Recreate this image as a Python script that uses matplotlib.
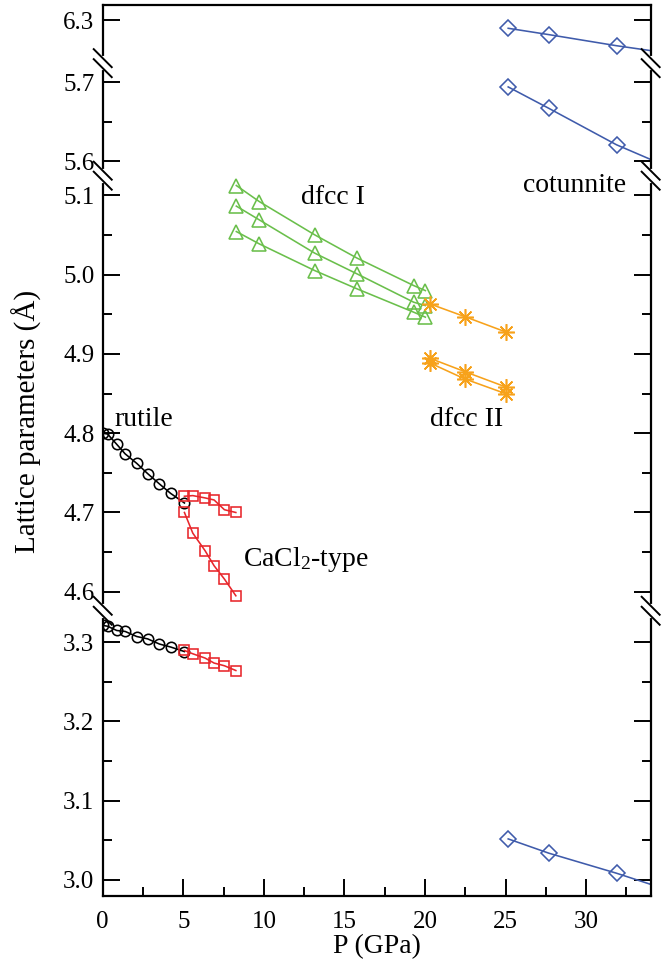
import numpy as np
import matplotlib
matplotlib.use('Agg')
import matplotlib.pyplot as plt

plt.rcParams['font.family'] = ['Liberation Serif', 'DejaVu Serif']
plt.rcParams['mathtext.fontset'] = 'custom'
plt.rcParams['mathtext.rm'] = 'Liberation Serif'
plt.rcParams['mathtext.it'] = 'Liberation Serif:italic'

# rutile (a and c)
rutile_p = [0.0, 0.3, 0.87, 1.39, 2.11, 2.79, 3.52, 4.22, 5.07]
rutile_a = [4.800, 4.799, 4.786, 4.774, 4.762, 4.749, 4.736, 4.724, 4.712]
rutile_c = [3.321, 3.320, 3.3146, 3.3134, 3.307, 3.304, 3.2975, 3.2937, 3.288]

# CaCl2-type (a, b, c)
cacl2_p = [5.07, 5.59, 6.35, 6.91, 7.55, 8.26]
cacl2_a = [4.7205, 4.7213, 4.7184, 4.7158, 4.7035, 4.700]
cacl2_b = [4.700, 4.6739, 4.6518, 4.6328, 4.616, 4.5949]
cacl2_c = [3.2894, 3.2852, 3.2798, 3.2735, 3.2701, 3.2641]

# dfcc I
dfcc1_p = [8.29, 9.71, 13.15, 15.78, 19.29, 20.02]
dfcc1_a = [5.1126, 5.0924, 5.0504, 5.021, 4.9864, 4.980]
dfcc1_b = [5.0866, 5.0693, 5.0273, 5.0011, 4.9654, 4.9611]
dfcc1_c = [5.0545, 5.039, 5.0053, 4.9822, 4.9528, 4.9465]

# dfcc II
dfcc2_p = [20.29, 22.46, 25.05]
dfcc2_a = [4.9633, 4.9472, 4.9275]
dfcc2_b = [4.8947, 4.8778, 4.8581]
dfcc2_c = [4.8888, 4.8686, 4.8496]

# cotunnite (last point lies beyond the plotted range)
cot_p = [25.16, 27.68, 31.88, 36.0]
cot_a = [6.290, 6.282, 6.268, 6.256]
cot_b = [5.694, 5.667, 5.621, 5.585]
cot_c = [3.0516, 3.0336, 3.0083, 2.981]

major_ticks = [3.0, 3.1, 3.2, 3.3, 4.6, 4.7, 4.8, 4.9, 5.0, 5.1, 5.6, 5.7, 6.3]
minor_ticks = [3.05, 3.15, 3.25, 4.65, 4.75, 4.85, 4.95, 5.05, 5.65]

# visible pieces of the broken y axis
seg_lo = [2.980, 4.576, 5.582, 6.246]
seg_hi = [3.3395, 5.125, 5.724, 6.319]

xp, fp = [], []
pos = 0.0
for lo, hi in zip(seg_lo, seg_hi):
    xp += [lo, hi]
    fp += [pos, pos + hi - lo]
    pos += hi - lo + 1e-7
xp = np.array(xp)
fp = np.array(fp)


def forward(v):
    return np.interp(v, xp, fp)


def inverse(u):
    return np.interp(u, fp, xp)


fig = plt.figure(figsize=(6.71, 9.64), dpi=100)
ax = fig.add_axes([0.1531, 0.0709, 0.8166, 0.9236])
ax.set_yscale('function', functions=(forward, inverse))
ax.set_xlim(0, 34)
ax.set_ylim(seg_lo[0], seg_hi[-1])

lw = 1.15
mew = 1.15

for ys in (rutile_a, rutile_c):
    ax.plot(rutile_p, ys, '-o', color='black', lw=lw, mfc='none', mec='black', mew=mew, ms=7.5)

red = '#e8262b'
for ys in (cacl2_a, cacl2_b, cacl2_c):
    ax.plot(cacl2_p, ys, '-s', color=red, lw=lw, mfc='none', mew=mew, ms=6.8)

green = '#6abf4b'
for ys in (dfcc1_a, dfcc1_b, dfcc1_c):
    ax.plot(dfcc1_p, ys, '-^', color=green, lw=lw, mfc='none', mew=mew, ms=9.5)

orange = '#f7a21b'
for ys in (dfcc2_a, dfcc2_b, dfcc2_c):
    ax.plot(dfcc2_p, ys, '-', color=orange, lw=lw, marker=(8, 2, 0), mew=mew, ms=12)

blue = '#3f5bab'
for ys in (cot_a, cot_b, cot_c):
    ax.plot(cot_p, ys, '-D', color=blue, lw=lw, mfc='none', mew=mew, ms=7.8)

# axes styling
ax.set_yticks(major_ticks)
ax.set_yticklabels([f'{v:.1f}' for v in major_ticks])
ax.set_yticks(minor_ticks, minor=True)
ax.set_xticks(np.arange(0, 35, 5))
ax.set_xticks(np.arange(2.5, 35, 5), minor=True)
ax.tick_params(which='both', direction='in', right=True, top=False, labelsize=18, width=1.4)
ax.tick_params(which='major', length=12.5)
ax.tick_params(which='minor', length=6.5)
ax.tick_params(axis='x', pad=11)
ax.tick_params(axis='y', pad=6)
for s in ax.spines.values():
    s.set_linewidth(1.6)

ax.set_xlabel('P (GPa)', fontsize=20, labelpad=1)
fig.text(27 / 671, 1 - 421 / 964, 'Lattice parameters (Å)', rotation=90,
         ha='center', va='center', fontsize=21)

# break marks on both spines
fig.canvas.draw()
h_px = ax.bbox.height
w_px = ax.bbox.width
for yb in (seg_hi[0], seg_hi[1], seg_hi[2]):
    yf = ax.transAxes.inverted().transform(ax.transData.transform((0, yb)))[1]
    for xf in (0.0, 1.0):
        ax.plot([xf, xf], [yf - 5 / h_px, yf + 5 / h_px], color='white', lw=3,
                transform=ax.transAxes, clip_on=False, zorder=5)
        for off in (-5, 5):
            ax.plot([xf - 9 / w_px, xf + 9 / w_px],
                    [yf + (off + 9) / h_px, yf + (off - 9) / h_px],
                    color='black', lw=1.4, transform=ax.transAxes,
                    clip_on=False, zorder=6)

# phase labels
ax.text(0.76, 4.809, 'rutile', fontsize=20, va='baseline')
ax.text(12.3, 5.0895, 'dfcc I', fontsize=20, va='baseline')
ax.text(20.33, 4.8097, 'dfcc II', fontsize=20, va='baseline')
ax.text(26.1, 5.1047, 'cotunnite', fontsize=20, va='baseline')
ax.text(8.70, 4.6328, r'CaCl$_\mathrm{2}$-type', fontsize=20, va='baseline')

fig.savefig('out.png', dpi=100)
